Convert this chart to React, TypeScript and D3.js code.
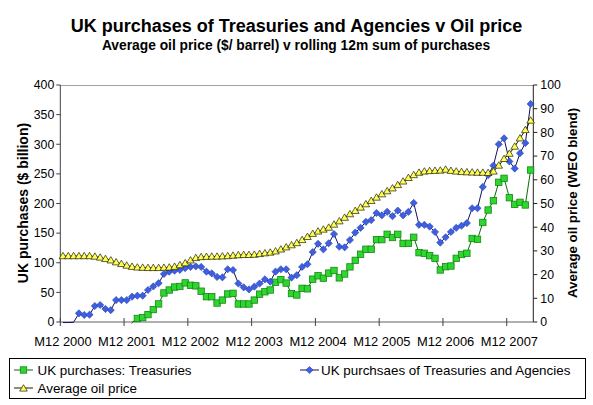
import React from "react";
import * as d3 from "d3";

const W = 593;
const H = 405;

// Monthly categories: Dec 2000 .. Apr 2008
const categories: string[] = d3.range(89).map((i) => {
  const m = ((11 + i) % 12) + 1;
  const y = 2000 + Math.floor((11 + i) / 12);
  return `M${m} ${y}`;
});

const xTickLabels = ["M12 2000", "M12 2001", "M12 2002", "M12 2003", "M12 2004", "M12 2005", "M12 2006", "M12 2007"];
const leftTicks = [0, 50, 100, 150, 200, 250, 300, 350, 400];
const rightTicks = [0, 10, 20, 30, 40, 50, 60, 70, 80, 90, 100];

// UK purchases: Treasuries ($ bn, rolling 12m)
const treasuries: (number | null)[] = [
  null, null, null, null, null, null, null, null, null, null, null, null, -30, -1,
  6, 7.5, 12.5, 21, 30.5, 49, 54, 59, 60, 66,
  62, 61, 52, 42.7, 42.7, 32, 37, 47.3, 48.4, 30.4,
  30.4, 30.4, 37, 47, 51, 54, 67, 71.5, 65.7, 48,
  45.6, 56.8, 56, 72.3, 78, 74, 82.5, 87, 74.5, 81,
  93, 104, 114.4, 122.8, 122.8, 139, 139, 148, 142.6, 148,
  132.5, 132.8, 143, 117, 116, 112, 107.5, 87.8, 93.3, 94.5,
  107.5, 114, 116, 141, 139.5, 168, 189, 204.7, 235.8, 242.5,
  209.8, 198.6, 202, 197.5, 256.5,
];

// UK purchases of Treasuries and Agencies ($ bn, rolling 12m)
const treasAgencies: number[] = [
  -1, -1, -0.5, 14.6, 11.8, 12.3, 27, 28.7, 22, 20,
  37, 37, 37, 42.7, 44.4, 44.4, 54, 60, 65.5, 81,
  85, 86.5, 88, 91, 93, 94, 93, 85, 82, 76,
  75.4, 89, 87.8, 65, 58.5, 55, 59.6, 65, 72, 68,
  85, 89, 89, 75, 79, 93, 97.5, 118, 132, 122.6,
  132.8, 148.5, 127, 126, 138.4, 151, 159, 169, 172, 184,
  180, 186, 178.6, 188, 180, 186, 201, 164, 164, 161,
  152, 134, 143, 152, 159, 162.5, 167, 192, 192, 228,
  248, 264, 300, 310, 271, 259, 285, 302, 368,
];

// Average oil price ($/barrel, WEO blend)
const oilPrice: number[] = [
  27.8, 27.8, 27.8, 27.8, 27.8, 27.8, 27.6, 27.2, 26.6, 26.0,
  25.2, 24.5, 23.8, 23.3, 23.0, 22.9, 22.8, 22.8, 22.8, 22.9,
  23.0, 23.3, 24.0, 24.8, 26.0, 27.0, 27.4, 27.5, 27.6, 27.6,
  27.7, 27.8, 28.0, 28.2, 28.3, 28.3, 28.4, 28.7, 29.0, 29.3,
  29.8, 30.6, 31.5, 32.4, 33.3, 34.6, 35.9, 37.2, 38.2, 39.0,
  39.8, 41.1, 42.5, 44.0, 45.5, 46.9, 48.3, 49.7, 51.1, 52.5,
  53.9, 55.2, 56.4, 57.8, 59.3, 60.8, 62.0, 63.0, 63.5, 63.7,
  63.8, 63.9, 64.3, 63.8, 63.5, 63.3, 63.2, 63.1, 63.0, 63.0,
  62.9, 63.5, 66.0, 68.8, 71.0, 74.0, 77.5, 81.0, 85.0,
];

const FONT = "'Liberation Sans', Arial, sans-serif";

const GREEN_FILL = "#2fd62f";
const GREEN_STROKE = "#118811";
const GREEN_LINE = "#0a6a0a";
const BLUE_FILL = "#3d5fe0";
const BLUE_STROKE = "#2840b0";
const BLUE_LINE = "#101060";
const YEL_FILL = "#ffff55";
const YEL_STROKE = "#202000";
const YEL_LINE = "#1a1a00";

function square(cx: number, cy: number, key: string | number) {
  return <rect key={key} x={cx - 3.2} y={cy - 3.2} width={6.4} height={6.4} fill={GREEN_FILL} stroke={GREEN_STROKE} strokeWidth={0.8} />;
}
function diamond(cx: number, cy: number, key: string | number) {
  const r = 3.6;
  return <path key={key} d={`M${cx},${cy - r}L${cx + r},${cy}L${cx},${cy + r}L${cx - r},${cy}Z`} fill={BLUE_FILL} stroke={BLUE_STROKE} strokeWidth={0.6} />;
}
function triangle(cx: number, cy: number, key: string | number) {
  return <path key={key} d={`M${cx},${cy - 3.8}L${cx + 3.8},${cy + 2.6}L${cx - 3.8},${cy + 2.6}Z`} fill={YEL_FILL} stroke={YEL_STROKE} strokeWidth={0.7} />;
}

export default function App() {
  const left = 60.3, right = 533.3, top = 85, bottom = 322;
  const x = d3.scaleBand<number>().domain(d3.range(categories.length)).range([left, right]).paddingInner(0).paddingOuter(0);
  const cx = (i: number) => (x(i) as number) + x.bandwidth() / 2;
  const yL = d3.scaleLinear().domain([0, 400]).range([bottom, top]);
  const yR = d3.scaleLinear().domain([0, 100]).range([bottom, top]);

  const lineL = d3.line<number | null>().defined((d) => d != null).x((_, i) => cx(i)).y((d) => yL(d as number));
  const lineR = d3.line<number>().x((_, i) => cx(i)).y((d) => yR(d));

  const tickIdx = xTickLabels.map((l) => categories.indexOf(l));

  return (
    <svg width={W} height={H} style={{ position: "absolute", left: 0, top: 0, background: "#fff" }} fontFamily={FONT}>
      <defs>
        <clipPath id="plotclip">
          <rect x={left} y={top} width={right - left} height={bottom - top + 1.5} />
        </clipPath>
      </defs>
      <rect x={0} y={0} width={W} height={H} fill="#fff" />
      {/* titles */}
      <text x={296.5} y={32} textAnchor="middle" fontSize={18} fontWeight="bold">UK purchases of Treasuries and Agencies v Oil price</text>
      <text x={296} y={50} textAnchor="middle" fontSize={13.8} fontWeight="bold">Average oil price ($/ barrel) v rolling 12m sum of purchases</text>

      {/* plot border */}
      <line x1={left} x2={right} y1={top + 0.5} y2={top + 0.5} stroke="#a0a0a0" strokeWidth={1} />
      {/* left axis */}
      <line x1={left} x2={left} y1={top} y2={bottom} stroke="#404040" strokeWidth={1} />
      {leftTicks.map((t) => (
        <g key={"lt" + t}>
          <line x1={left - 4} x2={left} y1={yL(t)} y2={yL(t)} stroke="#404040" />
          <text x={left - 6} y={yL(t) + 4.3} textAnchor="end" fontSize={12.3}>{t}</text>
        </g>
      ))}
      {/* right axis */}
      <line x1={right} x2={right} y1={top} y2={bottom} stroke="#202020" strokeWidth={1} />
      {rightTicks.map((t) => (
        <g key={"rt" + t}>
          <line x1={right} x2={right + 4} y1={yR(t)} y2={yR(t)} stroke="#202020" />
          <text x={right + 7} y={yR(t) + 4.3} textAnchor="start" fontSize={12.3}>{t}</text>
        </g>
      ))}
      {/* bottom axis */}
      <line x1={left} x2={right} y1={bottom} y2={bottom} stroke="#606060" strokeWidth={1} />
      {tickIdx.map((idx, k) => (
        <g key={"xt" + k}>
          <line x1={x(idx) as number} x2={x(idx) as number} y1={bottom - 4} y2={bottom + 4} stroke="#404040" />
          <text x={cx(idx)} y={345.5} textAnchor="middle" fontSize={12.9}>{xTickLabels[k]}</text>
        </g>
      ))}

      {/* axis titles */}
      <text transform="translate(27.5,203) rotate(-90)" textAnchor="middle" fontSize={14} fontWeight="bold">UK purchases ($ billion)</text>
      <text transform="translate(577,203) rotate(-90)" textAnchor="middle" fontSize={13.3} fontWeight="bold">Average oil price (WEO blend)</text>

      {/* series */}
      <g clipPath="url(#plotclip)">
        <path d={lineL(treasuries) || ""} fill="none" stroke={GREEN_LINE} strokeWidth={1} />
        <path d={lineL(treasAgencies) || ""} fill="none" stroke={BLUE_LINE} strokeWidth={1} />
        <path d={lineR(oilPrice) || ""} fill="none" stroke={YEL_LINE} strokeWidth={1} />
      </g>
      <g>
        {treasuries.map((v, i) => (v != null && v >= 0 ? square(cx(i), yL(v), "g" + i) : null))}
        {treasAgencies.map((v, i) => (v >= 0 ? diamond(cx(i), yL(v), "b" + i) : null))}
        {oilPrice.map((v, i) => triangle(cx(i), yR(v), "y" + i))}
      </g>

      {/* legend */}
      <rect x={9.5} y={358.5} width={576} height={40} fill="#fff" stroke="#000" strokeWidth={1} />
      <line x1={14} x2={33} y1={370} y2={370} stroke={GREEN_LINE} />
      {square(23.5, 370, "lg")}
      <text x={37.5} y={374.8} fontSize={13.4}>UK purchases: Treasuries</text>
      <line x1={300} x2={319} y1={370} y2={370} stroke={BLUE_LINE} />
      {diamond(309.5, 370, "lb")}
      <text x={321} y={374.8} fontSize={13.4}>UK purchsaes of Treasuries and Agencies</text>
      <line x1={14} x2={33} y1={388} y2={388} stroke={YEL_LINE} />
      {triangle(23.5, 388.5, "ly")}
      <text x={37.5} y={392.8} fontSize={13.4}>Average oil price</text>
    </svg>
  );
}
